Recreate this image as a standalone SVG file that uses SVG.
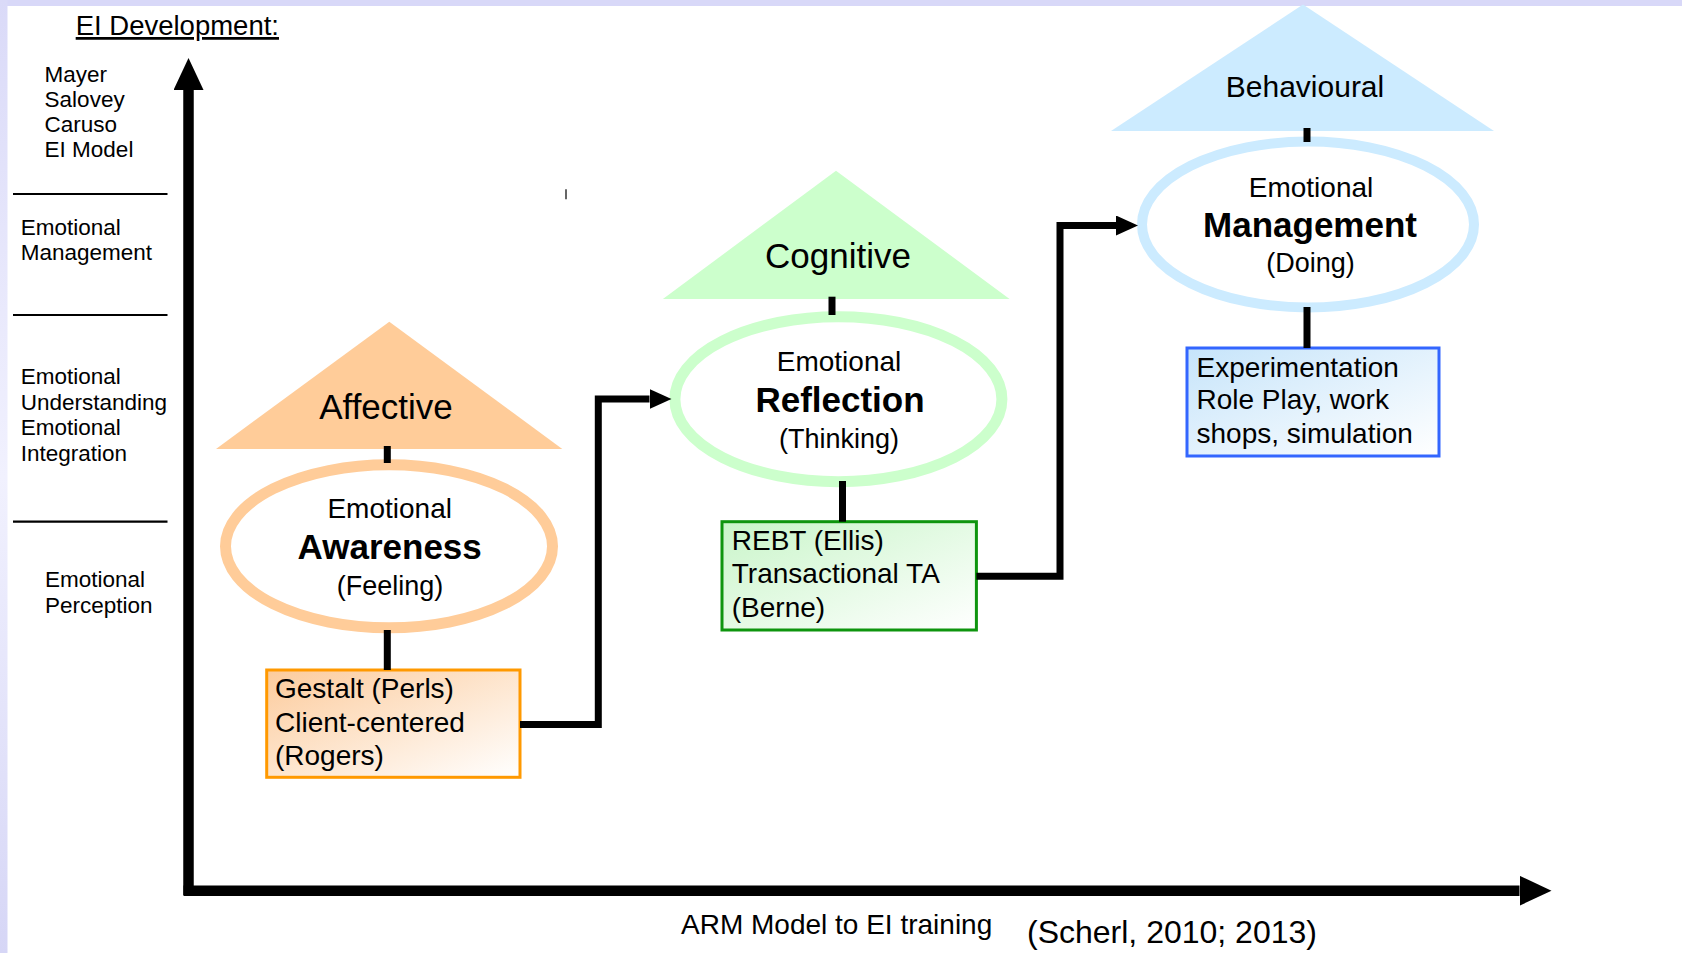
<svg xmlns="http://www.w3.org/2000/svg" width="1682" height="953" viewBox="0 0 1682 953">
<style>
text{font-family:"Liberation Sans",Arial,Helvetica,sans-serif;fill:#000}
.lbl{font-size:22.5px}
.tri{font-size:35px;text-anchor:middle}
.em{font-size:28px;text-anchor:middle}
.big{font-size:35px;font-weight:bold;text-anchor:middle}
.par{font-size:27px;text-anchor:middle}
.box{font-size:28px}
.sep{stroke:#000;stroke-width:2.2}
.ell{fill:#fff;stroke-width:11}
.con{fill:none;stroke:#000;stroke-width:7;stroke-linejoin:miter}
.axis{fill:none;stroke:#000;stroke-width:10.5}
</style>
<defs>
<linearGradient id="side" x1="0" y1="0" x2="0" y2="1">
<stop offset="0" stop-color="#DADAF8"/><stop offset="0.5" stop-color="#F1F1FE"/><stop offset="1" stop-color="#D6D6F6"/>
</linearGradient>
<linearGradient id="gO" x1="0" y1="0" x2="1" y2="1">
<stop offset="0" stop-color="#FCCB9C"/><stop offset="1" stop-color="#FFFFFF"/>
</linearGradient>
<linearGradient id="gG" x1="0" y1="0" x2="1" y2="1">
<stop offset="0" stop-color="#C9F5C9"/><stop offset="1" stop-color="#FFFFFF"/>
</linearGradient>
<linearGradient id="gB" x1="0" y1="0" x2="1" y2="1">
<stop offset="0" stop-color="#C6E4FA"/><stop offset="1" stop-color="#FFFFFF"/>
</linearGradient>
<marker id="arrS" markerUnits="userSpaceOnUse" viewBox="0 0 22 20" markerWidth="22" markerHeight="20" refX="0" refY="10" orient="auto">
<path d="M0,0 L22,10 L0,20 z" fill="#000"/>
</marker>
<marker id="arrL" markerUnits="userSpaceOnUse" viewBox="0 0 32 30" markerWidth="32" markerHeight="30" refX="0" refY="15" orient="auto">
<path d="M0,0 L32,15 L0,30 z" fill="#000"/>
</marker>
</defs>

<rect x="0" y="0" width="1682" height="953" fill="#fff"/>
<rect x="0" y="0" width="1682" height="6" fill="#D8D8F8"/>
<rect x="0" y="0" width="7.5" height="953" fill="url(#side)"/>

<g id="title">
<text x="75.7" y="35" font-size="27.5" text-decoration="underline">EI Development:</text>
</g>

<g id="levels">
<text class="lbl" x="44.6" y="81.7">Mayer</text>
<text class="lbl" x="44.6" y="106.7">Salovey</text>
<text class="lbl" x="44.6" y="131.7">Caruso</text>
<text class="lbl" x="44.6" y="157.3">EI Model</text>
<line class="sep" x1="13" y1="194" x2="167.5" y2="194"/>
<text class="lbl" x="20.7" y="235">Emotional</text>
<text class="lbl" x="20.7" y="260">Management</text>
<line class="sep" x1="13" y1="315" x2="167.5" y2="315"/>
<text class="lbl" x="20.7" y="384">Emotional</text>
<text class="lbl" x="20.7" y="410">Understanding</text>
<text class="lbl" x="20.7" y="435">Emotional</text>
<text class="lbl" x="20.7" y="461">Integration</text>
<line class="sep" x1="13" y1="521.7" x2="167.5" y2="521.7"/>
<text class="lbl" x="45" y="587">Emotional</text>
<text class="lbl" x="45" y="613">Perception</text>
</g>

<line x1="566" y1="189.3" x2="566" y2="199.3" stroke="#333" stroke-width="1.5"/>

<g id="axes">
<path class="axis" d="M188.5,895 V90" marker-end="url(#arrL)"/>
<path class="axis" d="M183.5,890.7 H1519.5" marker-end="url(#arrL)"/>
</g>

<g id="affective">
<polygon points="389.3,321.7 562.3,449 216,449" fill="#FFCC99"/>
<text class="tri" x="386" y="419.3">Affective</text>
</g>
<g id="awareness">
<ellipse class="ell" cx="389" cy="546.3" rx="163.5" ry="81.5" stroke="#FFCC99"/>
<text class="em" x="389.7" y="518.3">Emotional</text>
<text class="big" x="389.7" y="559">Awareness</text>
<text class="par" x="390" y="595">(Feeling)</text>
</g>
<g id="gestalt">
<rect x="266.7" y="670" width="253.3" height="107.3" fill="url(#gO)" stroke="#FF9900" stroke-width="3"/>
<text class="box" x="275" y="698.3">Gestalt (Perls)</text>
<text class="box" x="275" y="731.7">Client-centered</text>
<text class="box" x="275" y="765">(Rogers)</text>
</g>

<g id="cognitive">
<polygon points="836,170.7 1009.6,299 662.9,299" fill="#CCFFCC"/>
<text class="tri" x="838" y="268.3">Cognitive</text>
</g>
<g id="reflection">
<ellipse class="ell" cx="838.4" cy="399.2" rx="163.5" ry="82.5" stroke="#CCFFCC"/>
<text class="em" x="839" y="370.7">Emotional</text>
<text class="big" x="840" y="411.7">Reflection</text>
<text class="par" x="839" y="447.7">(Thinking)</text>
</g>
<g id="rebt">
<rect x="722" y="521.7" width="254.4" height="108.3" fill="url(#gG)" stroke="#0E950E" stroke-width="3"/>
<text class="box" x="731.8" y="550">REBT (Ellis)</text>
<text class="box" x="731.8" y="583.3">Transactional TA</text>
<text class="box" x="731.8" y="616.7">(Berne)</text>
</g>

<g id="behavioural">
<polygon points="1303,4.5 1494,131 1111,131" fill="#CCEBFF"/>
<text class="tri" x="1305" y="96.7" style="font-size:30px">Behavioural</text>
</g>
<g id="management">
<ellipse class="ell" cx="1308" cy="224.5" rx="166" ry="83" stroke="#CCEBFF" style="stroke-width:10px"/>
<text class="em" x="1311" y="196.7">Emotional</text>
<text class="big" x="1310" y="237.3">Management</text>
<text class="par" x="1310.5" y="271.7">(Doing)</text>
</g>
<g id="experimentation">
<rect x="1187" y="348" width="252" height="108" fill="url(#gB)" stroke="#3366FF" stroke-width="3"/>
<text class="box" x="1196.5" y="376.7">Experimentation</text>
<text class="box" x="1196.5" y="409.3">Role Play, work</text>
<text class="box" x="1196.5" y="442.7">shops, simulation</text>
</g>

<g id="connectors">
<line class="con" x1="387.3" y1="446" x2="387.3" y2="463"/>
<line class="con" x1="387.3" y1="630" x2="387.3" y2="670"/>
<path class="con" d="M520,724.5 H598.3 V399 H649.5" marker-end="url(#arrS)"/>
<line class="con" x1="832" y1="296.7" x2="832" y2="315"/>
<line class="con" x1="842.5" y1="481" x2="842.5" y2="521.7"/>
<path class="con" d="M976.4,576.3 H1060 V225.5 H1116" marker-end="url(#arrS)"/>
<line class="con" x1="1307" y1="128" x2="1307" y2="142"/>
<line class="con" x1="1307" y1="307" x2="1307" y2="348"/>
</g>

<g id="caption">
<text x="681" y="934" font-size="28">ARM Model to EI training</text>
<text x="1027" y="943" font-size="32">(Scherl, 2010; 2013)</text>
</g>
</svg>
